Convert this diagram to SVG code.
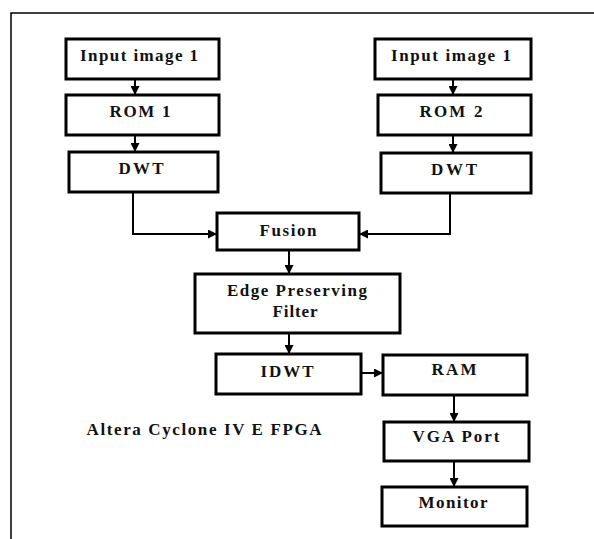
<svg xmlns="http://www.w3.org/2000/svg" width="594" height="539" viewBox="0 0 594 539">
<defs>
<marker id="ah" markerUnits="userSpaceOnUse" markerWidth="9" markerHeight="9" refX="9" refY="4.5" orient="auto">
<path d="M0,0 L9,4.5 L0,9 z" fill="#000"/>
</marker>
<style>
.box{fill:#fff;stroke:#000;stroke-width:3}
.t{font-family:"Liberation Serif","Times New Roman",serif;font-weight:bold;font-size:17px;fill:#111;text-anchor:middle}
.c{fill:none;stroke:#000;stroke-width:2;marker-end:url(#ah)}
.f{fill:none;stroke:#000;stroke-width:1.5}
</style>
</defs>
<rect width="594" height="539" fill="#fff"/>
<g id="frame">
<path class="f" d="M11,539 L11,13 L594,13"/>
</g>
<g id="in1"><rect class="box" x="66" y="39" width="153" height="40"/><text class="t" x="139" y="61" textLength="118" lengthAdjust="spacing">Input image 1</text></g>
<g id="rom1"><rect class="box" x="66" y="95" width="153" height="40"/><text class="t" x="140" y="117" textLength="61" lengthAdjust="spacing">ROM 1</text></g>
<g id="dwt1"><rect class="box" x="69" y="152" width="149" height="40"/><text class="t" x="141" y="174" textLength="45" lengthAdjust="spacing">DWT</text></g>
<g id="in2"><rect class="box" x="375" y="39" width="156" height="40"/><text class="t" x="451" y="61" textLength="120" lengthAdjust="spacing">Input image 1</text></g>
<g id="rom2"><rect class="box" x="378" y="95" width="153" height="40"/><text class="t" x="451" y="117" textLength="63" lengthAdjust="spacing">ROM 2</text></g>
<g id="dwt2"><rect class="box" x="381" y="153" width="150" height="40"/><text class="t" x="454" y="175" textLength="46" lengthAdjust="spacing">DWT</text></g>
<g id="fusion"><rect class="box" x="217" y="213" width="142" height="37"/><text class="t" x="288" y="236" textLength="57" lengthAdjust="spacing">Fusion</text></g>
<g id="epf"><rect class="box" x="195" y="274" width="205" height="59"/><text class="t" x="297" y="296" textLength="140" lengthAdjust="spacing">Edge Preserving</text><text class="t" x="295" y="317" textLength="45" lengthAdjust="spacing">Filter</text></g>
<g id="idwt"><rect class="box" x="216" y="354" width="145" height="40"/><text class="t" x="287" y="377" textLength="53" lengthAdjust="spacing">IDWT</text></g>
<g id="ram"><rect class="box" x="383" y="355" width="144" height="40"/><text class="t" x="454" y="375" textLength="45" lengthAdjust="spacing">RAM</text></g>
<g id="vga"><rect class="box" x="384" y="422" width="145" height="39"/><text class="t" x="456" y="442" textLength="87" lengthAdjust="spacing">VGA Port</text></g>
<g id="monitor"><rect class="box" x="382" y="487" width="145" height="39"/><text class="t" x="453" y="508" textLength="69" lengthAdjust="spacing">Monitor</text></g>
<g id="label"><text class="t" x="204" y="435" textLength="235" lengthAdjust="spacing">Altera Cyclone IV E FPGA</text></g>
<g id="connectors">
<path class="c" d="M135,79 L135,95"/>
<path class="c" d="M135,135 L135,152"/>
<path class="c" d="M453,79 L453,95"/>
<path class="c" d="M453,135 L453,153"/>
<path class="c" d="M133,192 L133,234 L217,234"/>
<path class="c" d="M450,193 L450,234 L359,234"/>
<path class="c" d="M289,250 L289,274"/>
<path class="c" d="M289,333 L289,354"/>
<path class="c" d="M361,373 L383,373"/>
<path class="c" d="M454,395 L454,422"/>
<path class="c" d="M454,461 L454,487"/>
</g>
</svg>
